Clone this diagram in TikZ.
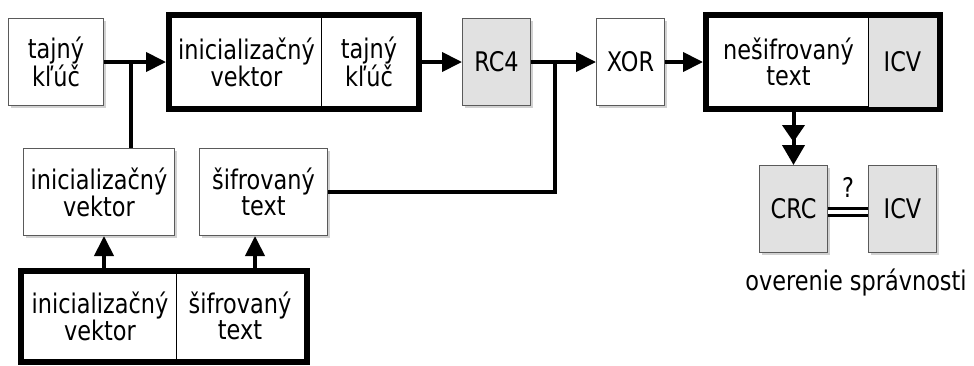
\documentclass[tikz,border=0pt]{standalone}
\usepackage{fontspec}
\setmainfont{DejaVu Sans}[FakeStretch=0.83]
\usetikzlibrary{arrows.meta,shadows}
\definecolor{boxgray}{HTML}{E1E1E1}
\definecolor{edgegray}{HTML}{5A5A5A}
\begin{document}
\begin{tikzpicture}[x=1pt,y=-1pt,
  txt/.style={font=\fontsize{27}{26}\selectfont, align=center, inner sep=0pt},
  thinbox/.style={txt, draw=edgegray, line width=1pt, fill=white,
    drop shadow={shadow xshift=2pt, shadow yshift=-2pt, opacity=0.18, fill=black}},
  graybox/.style={thinbox, fill=boxgray},
  bigbox/.style={draw=black, line width=6pt, inner sep=0pt},
  divider/.style={draw=black, line width=1pt},
  wire/.style={draw=black, line width=4pt},
  conn/.style={wire, -{Triangle[length=20pt,width=19pt]}},
  dconn/.style={wire, -{Triangle[length=17pt,width=22pt,sep=3pt] Triangle[length=20pt,width=22pt]}},
  eqline/.style={draw=black, line width=3pt, double=white, double distance=4pt}
]
\useasboundingbox (0,0) rectangle (974,365);

% top row
\node[thinbox, minimum width=95pt, minimum height=87pt] (k1) at (56,62) {tajný\\kľúč};

\node[bigbox, minimum width=250pt, minimum height=94pt] (b1) at (294,62) {};
\draw[divider] (321,18) -- (321,106);
\node[txt] (b1a) at (246.5,62) {inicializačný\\vektor};
\node[txt] (b1b) at (369,62) {tajný\\kľúč};

\node[graybox, minimum width=68pt, minimum height=87pt] (rc4) at (496.5,62) {RC4};
\node[thinbox, minimum width=68pt, minimum height=87pt] (xor) at (630.5,62) {XOR};

\node[bigbox, minimum width=234pt, minimum height=94pt] (b2) at (823,62) {};
\fill[boxgray] (868,18) rectangle (937,107);
\draw[divider] (868,18) -- (868,107);
\node[txt] (b2a) at (788.5,62) {nešifrovaný\\text};
\node[txt] (b2b) at (902.5,62) {ICV};

% middle row
\node[thinbox, minimum width=151pt, minimum height=87pt] (ivm) at (99,192) {inicializačný\\vektor};
\node[thinbox, minimum width=128pt, minimum height=87pt] (sm) at (263.5,192) {šifrovaný\\text};

\node[graybox, minimum width=68pt, minimum height=87pt] (crc) at (793.5,209) {CRC};
\node[graybox, minimum width=68pt, minimum height=87pt] (icv) at (902.5,209) {ICV};
\node[txt] (q) at (848,187) {?};
\node[txt] (ov) at (856,283) {overenie správnosti};

% bottom box
\node[bigbox, minimum width=286pt, minimum height=91pt] (b3) at (164,316.5) {};
\draw[divider] (176,274) -- (176,359);
\node[txt] (b3a) at (100,316) {inicializačný\\vektor};
\node[txt] (b3b) at (240,316) {šifrovaný\\text};

% connectors
\draw[conn] (k1.east) -- (b1.west);
\coordinate (j1) at (131,62);
\draw[wire] (j1) -- (j1 |- ivm.north);
\draw[conn] (b1.east) -- (rc4.west);
\draw[conn] (rc4.east) -- (xor.west);
\coordinate (j2) at (555,62);
\draw[wire] (j2) |- (sm.east);
\draw[conn] (xor.east) -- (b2.west);
\draw[dconn] (b2.south -| crc.north) -- (crc.north);
\draw[eqline] ([yshift=-3pt]crc.east) -- ([yshift=-3pt]icv.west);

\coordinate (u1) at (104,0);
\coordinate (u2) at (255,0);
\draw[conn] (u1 |- b3.north) -- (u1 |- ivm.south);
\draw[conn] (u2 |- b3.north) -- (u2 |- sm.south);
\end{tikzpicture}
\end{document}
